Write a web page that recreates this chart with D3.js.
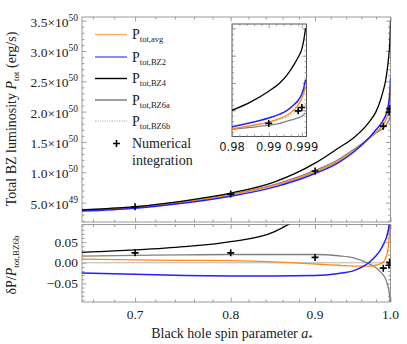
<!DOCTYPE html>
<html>
<head>
<meta charset="utf-8">
<script src="https://cdn.jsdelivr.net/npm/d3@7"></script>
<style>
  body { margin: 0; background: #fff; }
  svg { font-family: "Liberation Serif", "DejaVu Serif", serif; }
</style>
</head>
<body>
<div id="chart"></div>
<script>
const spin = [0.65, 0.7, 0.75, 0.8, 0.85, 0.9, 0.93, 0.95, 0.97, 0.98, 0.985, 0.99, 0.993, 0.995, 0.997, 0.998, 0.999, 0.9995, 1.0];

// total power, units of 1e50 erg/s
const pAvg = [0.373, 0.423, 0.513, 0.628, 0.782, 1.007, 1.183, 1.349, 1.548, 1.66, 1.715, 1.785, 1.85, 1.91, 2.02, 2.1, 2.22, 2.31, 2.43];
const pBZ2 = [0.361, 0.408, 0.494, 0.605, 0.755, 0.979, 1.16, 1.334, 1.56, 1.70, 1.77, 1.86, 1.93, 2.0, 2.11, 2.18, 2.3, 2.4, 2.56];
const pBZ4 = [0.38, 0.433, 0.53, 0.657, 0.838, 1.15, 1.4, 1.57, 1.82, 2.0, 2.15, 2.35, 2.5, 2.65, 2.85, 2.97, 3.12, 3.27, 3.5];
const pBZ6a = [0.376, 0.428, 0.52, 0.637, 0.796, 1.03, 1.21, 1.376, 1.557, 1.65, 1.686, 1.727, 1.76, 1.8, 1.84, 1.86, 1.89, 1.92, 1.95];
const pBZ6b = [0.37, 0.42, 0.51, 0.625, 0.78, 1.01, 1.19, 1.36, 1.56, 1.67, 1.72, 1.78, 1.83, 1.88, 1.95, 1.99, 2.05, 2.09, 2.15];

// relative difference to BZ6b
const dAvg = [0.009, 0.007, 0.006, 0.005, 0.002, -0.003, -0.006, -0.008, -0.008, -0.006, -0.003, 0.002, 0.01, 0.02, 0.04, 0.06, 0.09, 0.12, 0.15];
const dBZ2 = [-0.025, -0.028, -0.031, -0.032, -0.032, -0.031, -0.026, -0.019, 0.0, 0.017, 0.028, 0.044, 0.055, 0.065, 0.08, 0.09, 0.12, 0.15, 0.21];
const dBZ4 = [0.025, 0.031, 0.039, 0.051, 0.075, 0.14, 0.2, 0.25, 0.3, 0.33, 0.36, 0.4, 0.45, 0.5, 0.55, 0.6, 0.65, 0.7, 0.8];
const dBZ6a = [0.016, 0.018, 0.019, 0.02, 0.02, 0.02, 0.017, 0.012, -0.002, -0.012, -0.02, -0.03, -0.038, -0.048, -0.06, -0.07, -0.085, -0.1, -0.12];
const dBZ6b = [0, 0, 0, 0, 0, 0, 0, 0, 0, 0, 0, 0, 0, 0, 0, 0, 0, 0, 0];

// numerical integration points
const numSpin = [0.7, 0.8, 0.9, 0.99, 0.998, 0.999];
const numP = [0.43, 0.64, 1.02, 1.76, 1.99, 2.05];
const numD = [0.024, 0.024, 0.013, -0.013, -0.006, 0.001];

const xMajor = [0.7, 0.8, 0.9, 1.0];
const topMajor = [0.5, 1.0, 1.5, 2.0, 2.5, 3.0, 3.5];
const topLabels = ['5.0×10|49', '1.0×10|50', '1.5×10|50', '2.0×10|50', '2.5×10|50', '3.0×10|50', '3.5×10|50'];
const botMajor = [-0.05, 0, 0.05];
const botLabels = ['−0.05', '0.00', '0.05'];
const insetMajor = [0.98, 0.99, 0.999];

const series = [
  {name: 'avg', p: pAvg, d: dAvg, color: '#ff8a10', legend: '#ffae5c', width: 1.3},
  {name: 'BZ2', p: pBZ2, d: dBZ2, color: '#2020ff', legend: '#5a5aff', width: 1.5},
  {name: 'BZ4', p: pBZ4, d: dBZ4, color: '#000', legend: '#000', width: 1.3},
  {name: 'BZ6a', p: pBZ6a, d: dBZ6a, color: '#808080', legend: '#777', width: 1.3},
  {name: 'BZ6b', p: pBZ6b, d: dBZ6b, color: '#a8a8a8', legend: '#aaa', width: 1, dash: '1.5,1.5'}
];

const W = 407, H = 344;
const svg = d3.select('#chart').append('svg')
  .attr('width', W).attr('height', H);

const L = 82, R = 390.5;
const topY = [17, 222], botY = [224.5, 302];

const x = d3.scaleLog().domain([0.65, 1]).range([L, R]);
const yTop = d3.scaleLinear().domain([0.18, 3.56]).range([topY[1], topY[0]]);
const yBot = d3.scaleLinear().domain([-0.095, 0.0927]).range([botY[1], botY[0]]);

const xMinor = d3.range(0.66, 0.99, 0.02).filter(v => !xMajor.some(m => Math.abs(m - v) < 1e-6));
const topMinor = d3.range(0.2, 3.56, 0.1).filter(v => !topMajor.some(m => Math.abs(m - v) < 1e-6));
const botMinor = d3.range(-0.09, 0.092, 0.01).filter(v => !botMajor.some(m => Math.abs(m - v) < 1e-6));

const defs = svg.append('defs');
defs.append('clipPath').attr('id', 'clipTop').append('rect')
  .attr('x', L).attr('y', topY[0]).attr('width', R - L).attr('height', topY[1] - topY[0]);
defs.append('clipPath').attr('id', 'clipBot').append('rect')
  .attr('x', L).attr('y', botY[0]).attr('width', R - L).attr('height', botY[1] - botY[0]);

// inward ticks on one side of a frame
function tickSide (g, axisFn, scale, values, len, transform) {
  g.append('g')
    .attr('transform', transform)
    .call(axisFn(scale).tickValues(values).tickSize(-len).tickFormat(''))
    .call(s => s.select('.domain').remove())
    .selectAll('line').attr('stroke', '#888').attr('stroke-width', 0.8);
}

function frame (yScale, yr, yMaj, yMin) {
  const g = svg.append('g');
  g.append('rect')
    .attr('x', L).attr('y', yr[0]).attr('width', R - L).attr('height', yr[1] - yr[0])
    .attr('fill', 'none').attr('stroke', '#999').attr('stroke-width', 1);
  tickSide(g, d3.axisBottom, x, xMajor, 4.5, `translate(0,${yr[1]})`);
  tickSide(g, d3.axisBottom, x, xMinor, 2.5, `translate(0,${yr[1]})`);
  tickSide(g, d3.axisTop, x, xMajor, 4.5, `translate(0,${yr[0]})`);
  tickSide(g, d3.axisTop, x, xMinor, 2.5, `translate(0,${yr[0]})`);
  tickSide(g, d3.axisLeft, yScale, yMaj, 4.5, `translate(${L},0)`);
  tickSide(g, d3.axisLeft, yScale, yMin, 2.5, `translate(${L},0)`);
  tickSide(g, d3.axisRight, yScale, yMaj, 4.5, `translate(${R},0)`);
  tickSide(g, d3.axisRight, yScale, yMin, 2.5, `translate(${R},0)`);
  return g;
}

frame(yTop, topY, topMajor, topMinor);
frame(yBot, botY, botMajor, botMinor);

// curves
const order = [4, 3, 0, 1, 2];
const gTop = svg.append('g').attr('clip-path', 'url(#clipTop)');
const gBot = svg.append('g').attr('clip-path', 'url(#clipBot)');

order.forEach(i => {
  const s = series[i];
  const lineTop = d3.line().curve(d3.curveMonotoneX)
    .x((d, j) => x(spin[j])).y(d => yTop(d));
  const lineBot = d3.line().curve(d3.curveMonotoneX)
    .x((d, j) => x(spin[j])).y(d => yBot(d));
  gTop.append('path').datum(s.p)
    .attr('d', lineTop).attr('fill', 'none').attr('stroke', s.color)
    .attr('stroke-width', s.width).attr('stroke-dasharray', s.dash || null);
  gBot.append('path').datum(s.d)
    .attr('d', lineBot).attr('fill', 'none')
    .attr('stroke', s.name === 'BZ6b' ? '#b4b4b4' : s.color)
    .attr('stroke-width', s.name === 'BZ6b' ? 1 : s.width);
});

function crosses (g, xs, ys, xScale, yScale) {
  g.selectAll(null).data(xs).enter().append('path')
    .attr('d', (d, i) => {
      const cx = xScale(d), cy = yScale(ys[i]);
      return `M${cx - 3.5},${cy}H${cx + 3.5}M${cx},${cy - 3.5}V${cy + 3.5}`;
    })
    .attr('stroke', '#000').attr('stroke-width', 1.6);
}
crosses(gTop, numSpin, numP, x, yTop);
crosses(gBot, numSpin, numD, x, yBot);

// tick labels
const gLab = svg.append('g').attr('font-size', 13.5).attr('fill', '#222');
topMajor.forEach((v, i) => {
  const [m, e] = topLabels[i].split('|');
  const t = gLab.append('text').attr('x', 78).attr('y', yTop(v) + 6).attr('text-anchor', 'end');
  t.append('tspan').text(m);
  t.append('tspan').attr('dy', -6).attr('font-size', 9.5).text(e);
});
botMajor.forEach((v, i) => {
  gLab.append('text').attr('x', 78).attr('y', yBot(v) + 4.5).attr('text-anchor', 'end').text(botLabels[i]);
});
xMajor.forEach(v => {
  gLab.append('text').attr('x', x(v)).attr('y', 319).attr('text-anchor', 'middle').text(d3.format('.1f')(v));
});

// axis titles
const xt = svg.append('text').attr('x', 232).attr('y', 338).attr('text-anchor', 'middle')
  .attr('font-size', 14).attr('fill', '#222');
xt.append('tspan').text('Black hole spin parameter ');
xt.append('tspan').attr('font-style', 'italic').text('a');
xt.append('tspan').attr('font-size', 9).attr('dy', 3).text('*');

const yt = svg.append('text').attr('transform', 'translate(16,119) rotate(-90)')
  .attr('text-anchor', 'middle').attr('font-size', 14).attr('fill', '#222');
yt.append('tspan').text('Total BZ luminosity ');
yt.append('tspan').attr('font-style', 'italic').text('P');
yt.append('tspan').attr('font-size', 9).attr('dy', 3).text('tot');
yt.append('tspan').attr('dy', -3).text(' (erg/s)');

const yb = svg.append('text').attr('transform', 'translate(16,265) rotate(-90)')
  .attr('text-anchor', 'middle').attr('font-size', 14).attr('fill', '#222');
yb.append('tspan').text('δP/');
yb.append('tspan').attr('font-style', 'italic').text('P');
yb.append('tspan').attr('font-size', 9).attr('dy', 3).text('tot,BZ6b');

// legend
const leg = svg.append('g').attr('font-size', 14).attr('fill', '#222');
const legY = [34.5, 57, 78.5, 100, 121];
series.forEach((s, i) => {
  leg.append('line').attr('x1', 95).attr('x2', 127).attr('y1', legY[i]).attr('y2', legY[i])
    .attr('stroke', s.legend).attr('stroke-width', s.name === 'BZ6b' ? 1 : 1.4)
    .attr('stroke-dasharray', s.dash ? '1.2,1.2' : null);
  const t = leg.append('text').attr('x', 132).attr('y', legY[i] + 4.5);
  t.append('tspan').text('P');
  t.append('tspan').attr('font-size', 8.5).attr('dy', 3).text('tot,' + s.name);
});
leg.append('path')
  .attr('d', 'M113,143.5H120M116.5,140V147')
  .attr('stroke', '#000').attr('stroke-width', 1.6);
leg.append('text').attr('x', 132).attr('y', 148).text('Numerical');
leg.append('text').attr('x', 132).attr('y', 165).text('integration');

// inset
const xi = d3.scaleLinear().domain([0.98, 1.0]).range([232, 305.5]);
const yi = d3.scaleLinear().domain([1.52, 3.58]).range([136.5, 24]);
const gIn = svg.append('g');
gIn.append('rect').attr('x', 232).attr('y', 24).attr('width', 74.5).attr('height', 112.5)
  .attr('fill', '#fff').attr('stroke', '#555').attr('stroke-width', 1);
defs.append('clipPath').attr('id', 'clipIn').append('rect')
  .attr('x', 232).attr('y', 24).attr('width', 74.5).attr('height', 112.5);

const inMinorX = d3.range(0.982, 0.9985, 0.002).filter(v => Math.abs(v - 0.99) > 1e-6);
tickSide(gIn, d3.axisBottom, xi, insetMajor, 4, 'translate(0,136.5)');
tickSide(gIn, d3.axisBottom, xi, inMinorX, 2, 'translate(0,136.5)');
tickSide(gIn, d3.axisTop, xi, insetMajor, 4, 'translate(0,24)');
tickSide(gIn, d3.axisTop, xi, inMinorX, 2, 'translate(0,24)');
tickSide(gIn, d3.axisLeft, yi, [2.0, 2.5, 3.0, 3.5], 4, 'translate(232,0)');
tickSide(gIn, d3.axisLeft, yi, d3.range(1.6, 3.55, 0.1), 2, 'translate(232,0)');
tickSide(gIn, d3.axisRight, yi, [2.0, 2.5, 3.0, 3.5], 4, 'translate(306.5,0)');
tickSide(gIn, d3.axisRight, yi, d3.range(1.6, 3.55, 0.1), 2, 'translate(306.5,0)');

const gInC = gIn.append('g').attr('clip-path', 'url(#clipIn)');
const start = spin.indexOf(0.98);
order.forEach(i => {
  const s = series[i];
  const line = d3.line().curve(d3.curveMonotoneX)
    .x((d, j) => xi(spin[start + j])).y(d => yi(d));
  gInC.append('path').datum(s.p.slice(start))
    .attr('d', line).attr('fill', 'none').attr('stroke', s.color)
    .attr('stroke-width', s.width).attr('stroke-dasharray', s.dash || null);
});
const inIdx = numSpin.map((v, i) => i).filter(i => numSpin[i] >= 0.98);
crosses(gInC, inIdx.map(i => numSpin[i]), inIdx.map(i => numP[i]), xi, yi);

gIn.selectAll(null).data(insetMajor).enter().append('text')
  .attr('x', d => xi(d)).attr('y', 151).attr('text-anchor', 'middle')
  .attr('font-family', '"DejaVu Sans", sans-serif').attr('font-size', 11.5).attr('fill', '#222')
  .text(d => d);
</script>
</body>
</html>
